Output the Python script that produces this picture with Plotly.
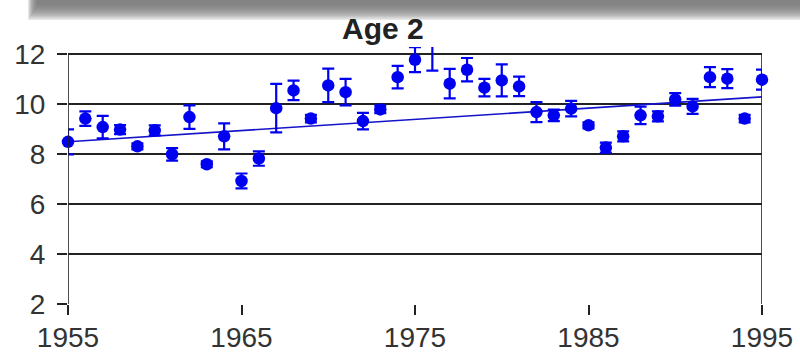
import plotly.graph_objects as go

# Annual index values (Age 2) with their error half-widths
years = list(range(1955, 1996))
values = [8.50, 9.43, 9.09, 8.99, 8.32, 8.96, 8.00, 9.49, 7.60, 8.72,
          6.93, 7.83, 9.85, 10.56, 9.43, 10.76, 10.49, 9.33, 9.80, 11.09,
          11.79, 12.60, 10.83, 11.39, 10.67, 10.96, 10.72, 9.69, 9.56, 9.83,
          9.16, 8.27, 8.72, 9.56, 9.52, 10.20, 9.92, 11.09, 11.03, 9.43,
          10.99]
errors = [0.50, 0.29, 0.45, 0.18, 0.12, 0.20, 0.25, 0.47, 0.12, 0.52,
          0.30, 0.29, 0.97, 0.39, 0.15, 0.67, 0.53, 0.33, 0.15, 0.45,
          0.50, 1.25, 0.59, 0.47, 0.35, 0.64, 0.39, 0.40, 0.23, 0.31,
          0.12, 0.20, 0.20, 0.35, 0.20, 0.25, 0.30, 0.40, 0.38, 0.15,
          0.40]

# Linear trend across the period
trend_years = [1955, 1995]
trend_values = [8.5, 10.3]

x_ticks = [1955, 1965, 1975, 1985, 1995]
y_ticks = [2, 4, 6, 8, 10, 12]
title_text = "Age 2"

BLUE = "#0000f0"
INK = "#222222"
FONT = "Liberation Sans, Arial, sans-serif"

W, H = 800, 352
ML, MR, MT, MB = 68, 38, 47, 48
y_top = 12.3

# points inside the axis range are drawn unclipped, others clipped
inside = [i for i, v in enumerate(values) if v <= y_ticks[-1]]
outside = [i for i, v in enumerate(values) if v > y_ticks[-1]]

fig = go.Figure()

fig.add_trace(go.Scatter(
    x=trend_years, y=trend_values, mode="lines",
    line=dict(color="#1414c8", width=1.6), hoverinfo="skip",
    showlegend=False))

def point_trace(idx, clip):
    return go.Scatter(
        x=[years[i] for i in idx], y=[values[i] for i in idx],
        mode="markers",
        marker=dict(color=BLUE, size=12.5, symbol="circle"),
        error_y=dict(type="data", array=[errors[i] for i in idx],
                     visible=True, color=BLUE, thickness=2.2, width=6),
        cliponaxis=clip, showlegend=False)

fig.add_trace(point_trace(inside, False))
fig.add_trace(point_trace(outside, True))

shapes = []
# left axis line and right border, from the lowest to the highest tick
for xv in (x_ticks[0], x_ticks[-1]):
    shapes.append(dict(type="line", xref="x", yref="y",
                       x0=xv, x1=xv, y0=y_ticks[0], y1=y_ticks[-1],
                       line=dict(color=INK, width=1.6), layer="above"))

# soft grey drop shadow band across the top of the page
plot_w = W - ML - MR
plot_h = H - MT - MB
def px(xp):
    return (xp - ML) / plot_w
def py(yp):
    return (H - MB - yp) / plot_h

steps = 12
for k in range(steps):
    f = k / (steps - 1)
    bottom = 5 + 15 * f
    left = 37 - 9 * f
    shapes.append(dict(type="rect", xref="paper", yref="paper",
                       x0=px(left), x1=px(W + 5), y0=py(bottom), y1=py(-5),
                       fillcolor="rgba(120,120,120,0.16)",
                       line=dict(width=0), layer="below"))

fig.update_layout(
    width=W, height=H,
    margin=dict(l=ML, r=MR, t=MT, b=MB, pad=0),
    paper_bgcolor="white", plot_bgcolor="white",
    font=dict(family=FONT, size=28, color="#333333"),
    shapes=shapes,
    annotations=[dict(text=f"<b>{title_text}</b>", xref="paper", yref="paper",
                      x=px(383), y=py(28), xanchor="center", yanchor="middle",
                      showarrow=False,
                      font=dict(family=FONT, size=30, color=INK))],
    xaxis=dict(range=[x_ticks[0], x_ticks[-1]], tickvals=x_ticks,
               ticks="outside", ticklen=10, tickwidth=1.6, tickcolor=INK,
               showgrid=False, zeroline=False, showline=False,
               ticklabelstandoff=-2, automargin=False, fixedrange=True),
    yaxis=dict(range=[y_ticks[0], y_top], tickvals=y_ticks,
               ticks="outside", ticklen=10, tickwidth=1.6, tickcolor=INK,
               showgrid=True, gridcolor=INK, gridwidth=1.6,
               zeroline=False, showline=False,
               ticklabelstandoff=6, automargin=False, fixedrange=True),
)

fig.write_html("out.html")
